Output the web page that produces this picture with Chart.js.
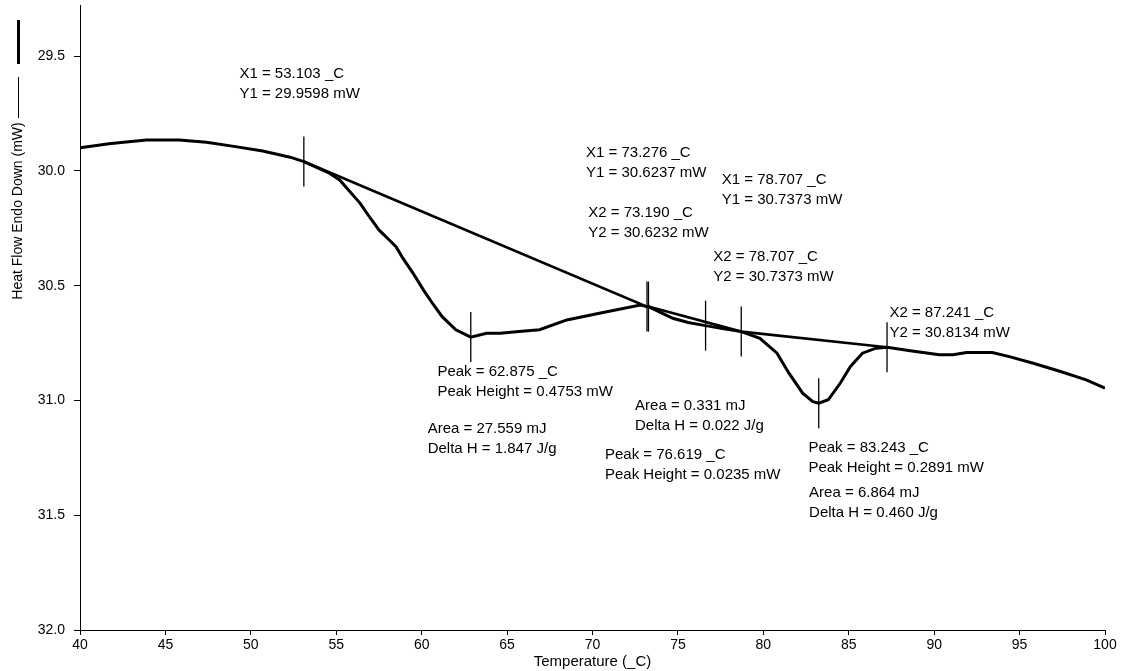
<!DOCTYPE html>
<html>
<head>
<meta charset="utf-8">
<title>DSC Heat Flow</title>
<script src="https://cdn.jsdelivr.net/npm/chart.js@4/dist/chart.umd.min.js"></script>
<style>
    html, body { margin: 0; padding: 0; background: #fff; }
    #wrap { width: 1122px; height: 671px; position: relative; }
</style>
</head>
<body>
<div id="wrap"><canvas id="dscChart"></canvas></div>
<script>
"use strict";

// heat flow curve (temperature in _C, heat flow in mW)
const tempC = [40, 41.7, 42.7, 43.9, 45.8, 47.4, 49.1, 50.7, 52.3, 53.103, 54.6, 55.2, 56.4, 57.0, 57.5,
    58.1, 58.5, 58.9, 59.5, 60.1, 60.7, 61.2, 62.0, 62.875, 63.8, 64.6, 65.7, 66.9, 68.5, 70.4, 72.8, 73.19,
    73.276, 74.7, 75.6, 76.619, 77.6, 78.707, 79.8, 80.8, 81.5, 82.3, 82.9, 83.243, 83.8, 84.5, 85.1,
    85.8, 86.6, 87.241, 88.6, 90.3, 91.1, 91.9, 93.4, 94.4, 95.8, 97.4, 98.9, 100];
const heatFlow = [29.899, 29.882, 29.874, 29.865, 29.865, 29.875, 29.894, 29.913, 29.940, 29.959, 30.010,
    30.039, 30.141, 30.206, 30.257, 30.301, 30.330, 30.380, 30.446, 30.518, 30.584, 30.635, 30.692, 30.724,
    30.707, 30.707, 30.700, 30.692, 30.649, 30.620, 30.584, 30.591,
    30.591, 30.642, 30.660, 30.674, 30.686, 30.700, 30.729, 30.794, 30.881, 30.968, 31.005, 31.012, 30.997,
    30.925, 30.852, 30.794, 30.772, 30.768, 30.783, 30.801, 30.801, 30.791, 30.791, 30.809, 30.838,
    30.874, 30.910, 30.946];

// integration baselines
const baseTemp = [53.103, 73.190, 73.276, 78.707, 87.241];
const baseFlow = [29.959, 30.591, 30.591, 30.700, 30.768];

// limit and peak markers
const markTemp = [53.103, 62.875, 73.190, 73.276, 76.619, 78.707, 83.243, 87.241];
const markFlow = [29.959, 30.724, 30.591, 30.591, 30.674, 30.700, 31.012, 30.768];

const xTicks = [40, 45, 50, 55, 60, 65, 70, 75, 80, 85, 90, 95, 100];
const yTicks = [29.5, 30.0, 30.5, 31.0, 31.5, 32.0];

// text blocks, anchored at the left end of their first line
const notes = [
    { t: 49.33, f: 29.577, lines: ["X1 = 53.103 _C", "Y1 = 29.9598 mW"] },
    { t: 69.62, f: 29.920, lines: ["X1 = 73.276 _C", "Y1 = 30.6237 mW"] },
    { t: 77.57, f: 30.039, lines: ["X1 = 78.707 _C", "Y1 = 30.7373 mW"] },
    { t: 69.75, f: 30.184, lines: ["X2 = 73.190 _C", "Y2 = 30.6232 mW"] },
    { t: 77.07, f: 30.373, lines: ["X2 = 78.707 _C", "Y2 = 30.7373 mW"] },
    { t: 87.38, f: 30.620, lines: ["X2 = 87.241 _C", "Y2 = 30.8134 mW"] },
    { t: 60.92, f: 30.877, lines: ["Peak = 62.875 _C", "Peak Height = 0.4753 mW"] },
    { t: 60.35, f: 31.125, lines: ["Area = 27.559 mJ", "Delta H = 1.847 J/g"] },
    { t: 72.49, f: 31.023, lines: ["Area = 0.331 mJ", "Delta H = 0.022 J/g"] },
    { t: 70.73, f: 31.237, lines: ["Peak = 76.619 _C", "Peak Height = 0.0235 mW"] },
    { t: 82.64, f: 31.208, lines: ["Peak = 83.243 _C", "Peak Height = 0.2891 mW"] },
    { t: 82.68, f: 31.403, lines: ["Area = 6.864 mJ", "Delta H = 0.460 J/g"] }
];

const fontFamily = "'Liberation Sans', Arial, sans-serif";
const toPoints = (xs, ys) => xs.map((x, i) => ({ x: x, y: ys[i] }));

// text, axis titles and the little line samples next to the y title
const textPlugin = {
    id: "dscText",
    afterDraw(chart) {
        const ctx = chart.ctx;
        const xs = chart.scales.x;
        const ys = chart.scales.y;
        ctx.save();
        ctx.fillStyle = "#000";
        ctx.textBaseline = "middle";
        ctx.textAlign = "left";
        ctx.font = `15px ${fontFamily}`;
        notes.forEach((n) => {
            const px = xs.getPixelForValue(n.t);
            const py = ys.getPixelForValue(n.f);
            n.lines.forEach((line, i) => ctx.fillText(line, px, py + i * 20));
        });

        ctx.textAlign = "center";
        const area = chart.chartArea;
        ctx.fillText("Temperature (_C)", (area.left + area.right) / 2, 662);

        ctx.save();
        ctx.translate(18, 211);
        ctx.rotate(-Math.PI / 2);
        ctx.font = `14px ${fontFamily}`;
        ctx.fillText("Heat Flow Endo Down (mW)", 0, 0);
        ctx.restore();

        ctx.strokeStyle = "#000";
        ctx.lineWidth = 1;
        ctx.beginPath();
        ctx.moveTo(18.5, 77);
        ctx.lineTo(18.5, 118);
        ctx.stroke();
        ctx.lineWidth = 3;
        ctx.beginPath();
        ctx.moveTo(18.5, 20);
        ctx.lineTo(18.5, 64);
        ctx.stroke();
        ctx.restore();
    }
};

const ctx = document.getElementById("dscChart").getContext("2d");
new Chart(ctx, {
    type: "scatter",
    data: {
        datasets: [
            {
                label: "Heat Flow",
                data: toPoints(tempC, heatFlow),
                showLine: true,
                borderColor: "#000",
                borderWidth: 3,
                pointRadius: 0,
                tension: 0
            },
            {
                label: "Baseline",
                data: toPoints(baseTemp, baseFlow),
                showLine: true,
                borderColor: "#000",
                borderWidth: 2.6,
                pointRadius: 0,
                tension: 0
            },
            {
                label: "Markers",
                data: toPoints(markTemp, markFlow),
                showLine: false,
                pointStyle: "line",
                rotation: 90,
                pointRadius: 25,
                borderWidth: 1.3,
                borderColor: "#000",
                backgroundColor: "#000"
            }
        ]
    },
    options: {
        responsive: true,
        maintainAspectRatio: false,
        animation: false,
        events: [],
        layout: { autoPadding: false, padding: { top: 5, right: 17, left: 0, bottom: 0 } },
        plugins: {
            legend: { display: false },
            tooltip: { enabled: false }
        },
        scales: {
            x: {
                type: "linear",
                min: 40,
                max: 100,
                afterBuildTicks: (s) => { s.ticks = xTicks.map((v) => ({ value: v })); },
                afterFit: (s) => {
                    s.height = 41;
                    s.paddingLeft = 0;
                    s.paddingRight = 0;
                },
                ticks: {
                    color: "#000",
                    font: { size: 14, family: fontFamily },
                    padding: 2,
                    maxRotation: 0,
                    autoSkip: false
                },
                grid: { drawOnChartArea: false, drawTicks: true, tickLength: 5, color: "#000" },
                border: { color: "#000", width: 1 }
            },
            y: {
                type: "linear",
                reverse: true,
                min: 29.277,
                max: 32.0,
                afterBuildTicks: (s) => { s.ticks = yTicks.map((v) => ({ value: v })); },
                afterFit: (s) => {
                    s.width = 80;
                    s.paddingTop = 0;
                    s.paddingBottom = 0;
                },
                ticks: {
                    color: "#000",
                    font: { size: 14, family: fontFamily },
                    padding: 9,
                    callback: (v) => Number(v).toFixed(1)
                },
                grid: { drawOnChartArea: false, drawTicks: true, tickLength: 6, color: "#000" },
                border: { color: "#000", width: 1 }
            }
        }
    },
    plugins: [textPlugin]
});
</script>
</body>
</html>
